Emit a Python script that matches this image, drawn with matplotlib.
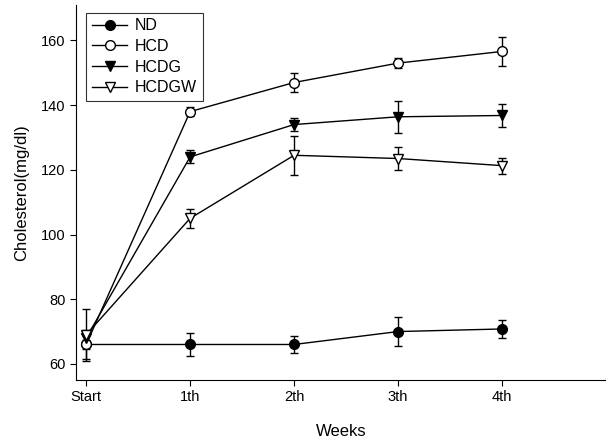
import matplotlib.pyplot as plt

plt.rcParams['font.family'] = ['Liberation Sans', 'DejaVu Sans']

weeks = ['Start', '1th', '2th', '3th', '4th']
x = [0, 1, 2, 3, 4]

nd = [66, 66, 66, 70, 70.8]
nd_err = [4.5, 3.5, 2.5, 4.6, 2.8]
hcd = [66, 138, 147, 153, 156.6]
hcd_err = [1.5, 1.5, 3, 1.5, 4.6]
hcdg = [68, 124, 134, 136.4, 136.8]
hcdg_err = [2, 2, 2, 5, 3.5]
hcdgw = [69, 105, 124.5, 123.5, 121.3]
hcdgw_err = [8, 3, 6, 3.5, 2.5]

fig = plt.figure(figsize=(6.06, 4.44), dpi=100)
ax = fig.add_axes([0.125, 0.144, 0.875, 0.845])

style = dict(color='black', lw=1, ms=7, capsize=3, elinewidth=1, capthick=1, mec='black')
series = [
    (nd, nd_err, 'o', 'black', 'ND'),
    (hcd, hcd_err, 'o', 'white', 'HCD'),
    (hcdg, hcdg_err, 'v', 'black', 'HCDG'),
    (hcdgw, hcdgw_err, 'v', 'white', 'HCDGW'),
]
handles = []
for vals, errs, mk, fc, name in series:
    c = ax.errorbar(x, vals, yerr=errs, marker=mk, mfc=fc, label=name, **style)
    handles.append(c[0])

ax.set_xlim(-0.1, 5.0)
ax.set_ylim(55, 171)
ax.set_xticks(x)
ax.set_xticklabels(weeks)
ax.set_yticks([60, 80, 100, 120, 140, 160])
ax.tick_params(labelsize=10.5, direction='out', length=4)
ax.spines['top'].set_visible(False)
ax.spines['right'].set_visible(False)

ax.set_xlabel('Weeks', fontsize=12, labelpad=14)
ax.set_ylabel('Cholesterol(mg/dl)', fontsize=12, labelpad=8)

leg = ax.legend(handles, [s[4] for s in series], loc='upper left', fontsize=11.5,
                frameon=True, fancybox=False, edgecolor='black',
                handlelength=2.2, handletextpad=0.5, borderpad=0.35,
                labelspacing=0.35, bbox_to_anchor=(0.005, 1.0))
leg.get_frame().set_linewidth(0.8)

fig.savefig('out.png', dpi=100)
